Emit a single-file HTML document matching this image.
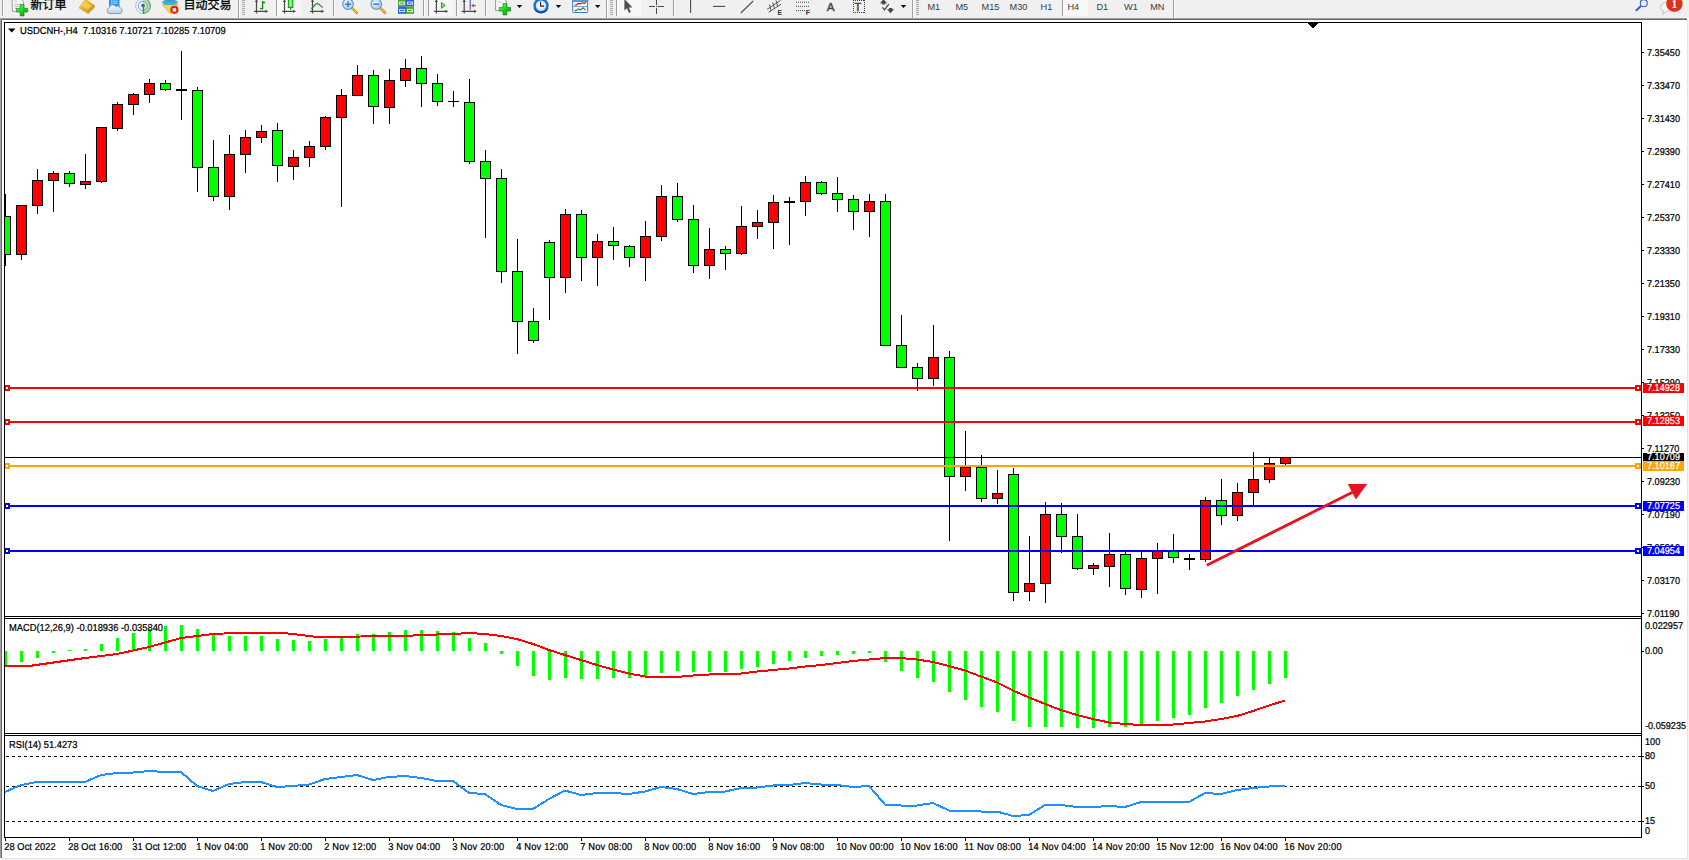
<!DOCTYPE html>
<html lang="zh"><head><meta charset="utf-8"><title>USDCNH H4</title>
<style>html,body{margin:0;padding:0;background:#fff;overflow:hidden}svg{display:block}text{white-space:pre}</style></head>
<body><svg width="1689" height="860" viewBox="0 0 1689 860" shape-rendering="crispEdges" font-family="Liberation Sans, Arial, sans-serif">
<rect x="0" y="0" width="1689" height="860" fill="#fff"/>
<rect x="0" y="0" width="1689" height="18" fill="#f0f0f0"/>
<rect x="0" y="18" width="1687" height="1" fill="#a0a0a0"/>
<rect x="0" y="19" width="1687" height="1" fill="#696969"/>
<rect x="0" y="18" width="1" height="840" fill="#a0a0a0"/>
<rect x="1" y="19" width="1" height="839" fill="#696969"/>
<rect x="1687" y="20" width="1" height="840" fill="#e3e3e3"/>
<rect x="1688" y="20" width="1" height="840" fill="#f4f4f4"/>
<rect x="2" y="858" width="1686" height="1" fill="#e3e3e3"/>
<rect x="2" y="859" width="1686" height="1" fill="#f4f4f4"/>
<!--CHART-->
<defs><clipPath id="cm"><rect x="5" y="23" width="1636" height="593"/></clipPath></defs>
<g clip-path="url(#cm)">
<rect x="5" y="194" width="1" height="72" fill="#000"/>
<rect x="0" y="216" width="11" height="39" fill="#000"/>
<rect x="1" y="217" width="9" height="37" fill="#00ff00"/>
<rect x="21" y="205" width="1" height="55" fill="#000"/>
<rect x="16" y="205" width="11" height="50" fill="#000"/>
<rect x="17" y="206" width="9" height="48" fill="#ff0000"/>
<rect x="37" y="169" width="1" height="45" fill="#000"/>
<rect x="32" y="180" width="11" height="26" fill="#000"/>
<rect x="33" y="181" width="9" height="24" fill="#ff0000"/>
<rect x="53" y="171" width="1" height="41" fill="#000"/>
<rect x="48" y="173" width="11" height="8" fill="#000"/>
<rect x="49" y="174" width="9" height="6" fill="#ff0000"/>
<rect x="69" y="171" width="1" height="16" fill="#000"/>
<rect x="64" y="173" width="11" height="11" fill="#000"/>
<rect x="65" y="174" width="9" height="9" fill="#00ff00"/>
<rect x="85" y="154" width="1" height="35" fill="#000"/>
<rect x="80" y="181" width="11" height="4" fill="#000"/>
<rect x="81" y="182" width="9" height="2" fill="#ff0000"/>
<rect x="101" y="127" width="1" height="56" fill="#000"/>
<rect x="96" y="127" width="11" height="55" fill="#000"/>
<rect x="97" y="128" width="9" height="53" fill="#ff0000"/>
<rect x="117" y="102" width="1" height="29" fill="#000"/>
<rect x="112" y="104" width="11" height="25" fill="#000"/>
<rect x="113" y="105" width="9" height="23" fill="#ff0000"/>
<rect x="133" y="93" width="1" height="22" fill="#000"/>
<rect x="128" y="94" width="11" height="11" fill="#000"/>
<rect x="129" y="95" width="9" height="9" fill="#ff0000"/>
<rect x="149" y="79" width="1" height="24" fill="#000"/>
<rect x="144" y="83" width="11" height="12" fill="#000"/>
<rect x="145" y="84" width="9" height="10" fill="#ff0000"/>
<rect x="165" y="80" width="1" height="11" fill="#000"/>
<rect x="160" y="83" width="11" height="7" fill="#000"/>
<rect x="161" y="84" width="9" height="5" fill="#00ff00"/>
<rect x="181" y="51" width="1" height="69" fill="#000"/>
<rect x="176" y="89" width="11" height="2" fill="#000"/>
<rect x="197" y="87" width="1" height="105" fill="#000"/>
<rect x="192" y="90" width="11" height="78" fill="#000"/>
<rect x="193" y="91" width="9" height="76" fill="#00ff00"/>
<rect x="213" y="140" width="1" height="61" fill="#000"/>
<rect x="208" y="167" width="11" height="30" fill="#000"/>
<rect x="209" y="168" width="9" height="28" fill="#00ff00"/>
<rect x="229" y="135" width="1" height="75" fill="#000"/>
<rect x="224" y="154" width="11" height="43" fill="#000"/>
<rect x="225" y="155" width="9" height="41" fill="#ff0000"/>
<rect x="245" y="130" width="1" height="43" fill="#000"/>
<rect x="240" y="137" width="11" height="18" fill="#000"/>
<rect x="241" y="138" width="9" height="16" fill="#ff0000"/>
<rect x="261" y="125" width="1" height="18" fill="#000"/>
<rect x="256" y="131" width="11" height="7" fill="#000"/>
<rect x="257" y="132" width="9" height="5" fill="#ff0000"/>
<rect x="277" y="123" width="1" height="59" fill="#000"/>
<rect x="272" y="130" width="11" height="36" fill="#000"/>
<rect x="273" y="131" width="9" height="34" fill="#00ff00"/>
<rect x="293" y="150" width="1" height="30" fill="#000"/>
<rect x="288" y="157" width="11" height="10" fill="#000"/>
<rect x="289" y="158" width="9" height="8" fill="#ff0000"/>
<rect x="309" y="141" width="1" height="26" fill="#000"/>
<rect x="304" y="146" width="11" height="12" fill="#000"/>
<rect x="305" y="147" width="9" height="10" fill="#ff0000"/>
<rect x="325" y="116" width="1" height="34" fill="#000"/>
<rect x="320" y="117" width="11" height="30" fill="#000"/>
<rect x="321" y="118" width="9" height="28" fill="#ff0000"/>
<rect x="341" y="89" width="1" height="118" fill="#000"/>
<rect x="336" y="95" width="11" height="23" fill="#000"/>
<rect x="337" y="96" width="9" height="21" fill="#ff0000"/>
<rect x="357" y="65" width="1" height="30" fill="#000"/>
<rect x="352" y="75" width="11" height="21" fill="#000"/>
<rect x="353" y="76" width="9" height="19" fill="#ff0000"/>
<rect x="373" y="70" width="1" height="54" fill="#000"/>
<rect x="368" y="75" width="11" height="32" fill="#000"/>
<rect x="369" y="76" width="9" height="30" fill="#00ff00"/>
<rect x="389" y="69" width="1" height="55" fill="#000"/>
<rect x="384" y="80" width="11" height="28" fill="#000"/>
<rect x="385" y="81" width="9" height="26" fill="#ff0000"/>
<rect x="405" y="59" width="1" height="28" fill="#000"/>
<rect x="400" y="68" width="11" height="13" fill="#000"/>
<rect x="401" y="69" width="9" height="11" fill="#ff0000"/>
<rect x="421" y="56" width="1" height="51" fill="#000"/>
<rect x="416" y="68" width="11" height="16" fill="#000"/>
<rect x="417" y="69" width="9" height="14" fill="#00ff00"/>
<rect x="437" y="74" width="1" height="32" fill="#000"/>
<rect x="432" y="83" width="11" height="19" fill="#000"/>
<rect x="433" y="84" width="9" height="17" fill="#00ff00"/>
<rect x="453" y="91" width="1" height="16" fill="#000"/>
<rect x="448" y="101" width="11" height="1" fill="#000"/>
<rect x="469" y="79" width="1" height="85" fill="#000"/>
<rect x="464" y="102" width="11" height="60" fill="#000"/>
<rect x="465" y="103" width="9" height="58" fill="#00ff00"/>
<rect x="485" y="150" width="1" height="88" fill="#000"/>
<rect x="480" y="161" width="11" height="18" fill="#000"/>
<rect x="481" y="162" width="9" height="16" fill="#00ff00"/>
<rect x="501" y="169" width="1" height="114" fill="#000"/>
<rect x="496" y="178" width="11" height="94" fill="#000"/>
<rect x="497" y="179" width="9" height="92" fill="#00ff00"/>
<rect x="517" y="239" width="1" height="115" fill="#000"/>
<rect x="512" y="271" width="11" height="51" fill="#000"/>
<rect x="513" y="272" width="9" height="49" fill="#00ff00"/>
<rect x="533" y="308" width="1" height="35" fill="#000"/>
<rect x="528" y="321" width="11" height="20" fill="#000"/>
<rect x="529" y="322" width="9" height="18" fill="#00ff00"/>
<rect x="549" y="240" width="1" height="80" fill="#000"/>
<rect x="544" y="242" width="11" height="36" fill="#000"/>
<rect x="545" y="243" width="9" height="34" fill="#00ff00"/>
<rect x="565" y="209" width="1" height="84" fill="#000"/>
<rect x="560" y="214" width="11" height="64" fill="#000"/>
<rect x="561" y="215" width="9" height="62" fill="#ff0000"/>
<rect x="581" y="210" width="1" height="71" fill="#000"/>
<rect x="576" y="214" width="11" height="44" fill="#000"/>
<rect x="577" y="215" width="9" height="42" fill="#00ff00"/>
<rect x="597" y="234" width="1" height="52" fill="#000"/>
<rect x="592" y="241" width="11" height="17" fill="#000"/>
<rect x="593" y="242" width="9" height="15" fill="#ff0000"/>
<rect x="613" y="227" width="1" height="33" fill="#000"/>
<rect x="608" y="241" width="11" height="5" fill="#000"/>
<rect x="609" y="242" width="9" height="3" fill="#00ff00"/>
<rect x="629" y="245" width="1" height="22" fill="#000"/>
<rect x="624" y="246" width="11" height="12" fill="#000"/>
<rect x="625" y="247" width="9" height="10" fill="#00ff00"/>
<rect x="645" y="221" width="1" height="60" fill="#000"/>
<rect x="640" y="236" width="11" height="22" fill="#000"/>
<rect x="641" y="237" width="9" height="20" fill="#ff0000"/>
<rect x="661" y="185" width="1" height="56" fill="#000"/>
<rect x="656" y="196" width="11" height="41" fill="#000"/>
<rect x="657" y="197" width="9" height="39" fill="#ff0000"/>
<rect x="677" y="183" width="1" height="39" fill="#000"/>
<rect x="672" y="196" width="11" height="24" fill="#000"/>
<rect x="673" y="197" width="9" height="22" fill="#00ff00"/>
<rect x="693" y="205" width="1" height="68" fill="#000"/>
<rect x="688" y="219" width="11" height="47" fill="#000"/>
<rect x="689" y="220" width="9" height="45" fill="#00ff00"/>
<rect x="709" y="228" width="1" height="51" fill="#000"/>
<rect x="704" y="249" width="11" height="17" fill="#000"/>
<rect x="705" y="250" width="9" height="15" fill="#ff0000"/>
<rect x="725" y="246" width="1" height="24" fill="#000"/>
<rect x="720" y="249" width="11" height="5" fill="#000"/>
<rect x="721" y="250" width="9" height="3" fill="#00ff00"/>
<rect x="741" y="206" width="1" height="49" fill="#000"/>
<rect x="736" y="226" width="11" height="28" fill="#000"/>
<rect x="737" y="227" width="9" height="26" fill="#ff0000"/>
<rect x="757" y="210" width="1" height="29" fill="#000"/>
<rect x="752" y="222" width="11" height="5" fill="#000"/>
<rect x="753" y="223" width="9" height="3" fill="#ff0000"/>
<rect x="773" y="195" width="1" height="54" fill="#000"/>
<rect x="768" y="202" width="11" height="21" fill="#000"/>
<rect x="769" y="203" width="9" height="19" fill="#ff0000"/>
<rect x="789" y="197" width="1" height="48" fill="#000"/>
<rect x="784" y="201" width="11" height="2" fill="#000"/>
<rect x="805" y="176" width="1" height="40" fill="#000"/>
<rect x="800" y="182" width="11" height="20" fill="#000"/>
<rect x="801" y="183" width="9" height="18" fill="#ff0000"/>
<rect x="821" y="181" width="1" height="14" fill="#000"/>
<rect x="816" y="182" width="11" height="12" fill="#000"/>
<rect x="817" y="183" width="9" height="10" fill="#00ff00"/>
<rect x="837" y="177" width="1" height="35" fill="#000"/>
<rect x="832" y="193" width="11" height="7" fill="#000"/>
<rect x="833" y="194" width="9" height="5" fill="#00ff00"/>
<rect x="853" y="195" width="1" height="35" fill="#000"/>
<rect x="848" y="199" width="11" height="13" fill="#000"/>
<rect x="849" y="200" width="9" height="11" fill="#00ff00"/>
<rect x="869" y="194" width="1" height="43" fill="#000"/>
<rect x="864" y="201" width="11" height="11" fill="#000"/>
<rect x="865" y="202" width="9" height="9" fill="#ff0000"/>
<rect x="885" y="194" width="1" height="151" fill="#000"/>
<rect x="880" y="201" width="11" height="145" fill="#000"/>
<rect x="881" y="202" width="9" height="143" fill="#00ff00"/>
<rect x="901" y="315" width="1" height="52" fill="#000"/>
<rect x="896" y="345" width="11" height="23" fill="#000"/>
<rect x="897" y="346" width="9" height="21" fill="#00ff00"/>
<rect x="917" y="363" width="1" height="28" fill="#000"/>
<rect x="912" y="367" width="11" height="12" fill="#000"/>
<rect x="913" y="368" width="9" height="10" fill="#00ff00"/>
<rect x="933" y="325" width="1" height="61" fill="#000"/>
<rect x="928" y="357" width="11" height="22" fill="#000"/>
<rect x="929" y="358" width="9" height="20" fill="#ff0000"/>
<rect x="949" y="351" width="1" height="190" fill="#000"/>
<rect x="944" y="357" width="11" height="120" fill="#000"/>
<rect x="945" y="358" width="9" height="118" fill="#00ff00"/>
<rect x="965" y="431" width="1" height="60" fill="#000"/>
<rect x="960" y="467" width="11" height="10" fill="#000"/>
<rect x="961" y="468" width="9" height="8" fill="#ff0000"/>
<rect x="981" y="455" width="1" height="47" fill="#000"/>
<rect x="976" y="467" width="11" height="32" fill="#000"/>
<rect x="977" y="468" width="9" height="30" fill="#00ff00"/>
<rect x="997" y="470" width="1" height="34" fill="#000"/>
<rect x="992" y="493" width="11" height="6" fill="#000"/>
<rect x="993" y="494" width="9" height="4" fill="#ff0000"/>
<rect x="1013" y="468" width="1" height="133" fill="#000"/>
<rect x="1008" y="474" width="11" height="119" fill="#000"/>
<rect x="1009" y="475" width="9" height="117" fill="#00ff00"/>
<rect x="1029" y="536" width="1" height="65" fill="#000"/>
<rect x="1024" y="583" width="11" height="9" fill="#000"/>
<rect x="1025" y="584" width="9" height="7" fill="#ff0000"/>
<rect x="1045" y="502" width="1" height="101" fill="#000"/>
<rect x="1040" y="514" width="11" height="70" fill="#000"/>
<rect x="1041" y="515" width="9" height="68" fill="#ff0000"/>
<rect x="1061" y="503" width="1" height="50" fill="#000"/>
<rect x="1056" y="514" width="11" height="23" fill="#000"/>
<rect x="1057" y="515" width="9" height="21" fill="#00ff00"/>
<rect x="1077" y="514" width="1" height="56" fill="#000"/>
<rect x="1072" y="536" width="11" height="33" fill="#000"/>
<rect x="1073" y="537" width="9" height="31" fill="#00ff00"/>
<rect x="1093" y="563" width="1" height="12" fill="#000"/>
<rect x="1088" y="565" width="11" height="4" fill="#000"/>
<rect x="1089" y="566" width="9" height="2" fill="#ff0000"/>
<rect x="1109" y="533" width="1" height="54" fill="#000"/>
<rect x="1104" y="554" width="11" height="13" fill="#000"/>
<rect x="1105" y="555" width="9" height="11" fill="#ff0000"/>
<rect x="1125" y="552" width="1" height="43" fill="#000"/>
<rect x="1120" y="554" width="11" height="35" fill="#000"/>
<rect x="1121" y="555" width="9" height="33" fill="#00ff00"/>
<rect x="1141" y="552" width="1" height="46" fill="#000"/>
<rect x="1136" y="558" width="11" height="32" fill="#000"/>
<rect x="1137" y="559" width="9" height="30" fill="#ff0000"/>
<rect x="1157" y="543" width="1" height="51" fill="#000"/>
<rect x="1152" y="551" width="11" height="8" fill="#000"/>
<rect x="1153" y="552" width="9" height="6" fill="#ff0000"/>
<rect x="1173" y="534" width="1" height="29" fill="#000"/>
<rect x="1168" y="551" width="11" height="7" fill="#000"/>
<rect x="1169" y="552" width="9" height="5" fill="#00ff00"/>
<rect x="1189" y="554" width="1" height="16" fill="#000"/>
<rect x="1184" y="558" width="11" height="2" fill="#000"/>
<rect x="1205" y="497" width="1" height="65" fill="#000"/>
<rect x="1200" y="500" width="11" height="60" fill="#000"/>
<rect x="1201" y="501" width="9" height="58" fill="#ff0000"/>
<rect x="1221" y="479" width="1" height="46" fill="#000"/>
<rect x="1216" y="500" width="11" height="16" fill="#000"/>
<rect x="1217" y="501" width="9" height="14" fill="#00ff00"/>
<rect x="1237" y="483" width="1" height="38" fill="#000"/>
<rect x="1232" y="492" width="11" height="24" fill="#000"/>
<rect x="1233" y="493" width="9" height="22" fill="#ff0000"/>
<rect x="1253" y="452" width="1" height="53" fill="#000"/>
<rect x="1248" y="479" width="11" height="14" fill="#000"/>
<rect x="1249" y="480" width="9" height="12" fill="#ff0000"/>
<rect x="1269" y="458" width="1" height="25" fill="#000"/>
<rect x="1264" y="463" width="11" height="17" fill="#000"/>
<rect x="1265" y="464" width="9" height="15" fill="#ff0000"/>
<rect x="1285" y="457" width="1" height="8" fill="#000"/>
<rect x="1280" y="457" width="11" height="7" fill="#000"/>
<rect x="1281" y="458" width="9" height="5" fill="#ff0000"/>
</g>
<rect x="5" y="457" width="1636" height="1" fill="#000"/>
<rect x="5" y="387" width="1636" height="2" fill="#ff0000"/>
<rect x="4" y="385" width="6" height="6" fill="#ff0000"/>
<rect x="6" y="387" width="2" height="2" fill="#fff"/>
<rect x="1635" y="385" width="6" height="6" fill="#ff0000"/>
<rect x="1637" y="387" width="2" height="2" fill="#fff"/>
<rect x="5" y="421" width="1636" height="2" fill="#ff0000"/>
<rect x="4" y="419" width="6" height="6" fill="#ff0000"/>
<rect x="6" y="421" width="2" height="2" fill="#fff"/>
<rect x="1635" y="419" width="6" height="6" fill="#ff0000"/>
<rect x="1637" y="421" width="2" height="2" fill="#fff"/>
<rect x="5" y="465" width="1636" height="2" fill="#ffa500"/>
<rect x="4" y="463" width="6" height="6" fill="#ffa500"/>
<rect x="6" y="465" width="2" height="2" fill="#fff"/>
<rect x="1635" y="463" width="6" height="6" fill="#ffa500"/>
<rect x="1637" y="465" width="2" height="2" fill="#fff"/>
<rect x="5" y="505" width="1636" height="2" fill="#0000ff"/>
<rect x="4" y="503" width="6" height="6" fill="#0000ff"/>
<rect x="6" y="505" width="2" height="2" fill="#fff"/>
<rect x="1635" y="503" width="6" height="6" fill="#0000ff"/>
<rect x="1637" y="505" width="2" height="2" fill="#fff"/>
<rect x="5" y="550" width="1636" height="2" fill="#0000ff"/>
<rect x="4" y="548" width="6" height="6" fill="#0000ff"/>
<rect x="6" y="550" width="2" height="2" fill="#fff"/>
<rect x="1635" y="548" width="6" height="6" fill="#0000ff"/>
<rect x="1637" y="550" width="2" height="2" fill="#fff"/>
<g shape-rendering="geometricPrecision"><line x1="1206.8" y1="565.3" x2="1354" y2="491.5" stroke="#e6141e" stroke-width="2.8"/><polygon points="1347.8,484 1367.2,484 1355.8,499.5" fill="#e6141e"/></g>
<rect x="4" y="22" width="1638" height="1" fill="#000"/>
<rect x="4" y="22" width="1" height="816" fill="#000"/>
<rect x="1641" y="22" width="1" height="816" fill="#000"/>
<rect x="4" y="616" width="1638" height="1" fill="#000"/>
<rect x="4" y="618" width="1638" height="1" fill="#000"/>
<rect x="4" y="733" width="1638" height="1" fill="#000"/>
<rect x="4" y="735" width="1638" height="1" fill="#000"/>
<rect x="4" y="837" width="1638" height="1" fill="#000"/>
<rect x="1308" y="23" width="10" height="1" fill="#000"/>
<rect x="1309" y="24" width="8" height="1" fill="#000"/>
<rect x="1310" y="25" width="6" height="1" fill="#000"/>
<rect x="1311" y="26" width="4" height="1" fill="#000"/>
<rect x="1312" y="27" width="2" height="1" fill="#000"/>
<rect x="5" y="651" width="2" height="14" fill="#00ff00"/>
<rect x="20" y="651" width="3" height="11" fill="#00ff00"/>
<rect x="36" y="651" width="3" height="7" fill="#00ff00"/>
<rect x="52" y="651" width="3" height="2" fill="#00ff00"/>
<rect x="68" y="650" width="3" height="1" fill="#00ff00"/>
<rect x="84" y="649" width="3" height="2" fill="#00ff00"/>
<rect x="100" y="644" width="3" height="7" fill="#00ff00"/>
<rect x="116" y="638" width="3" height="13" fill="#00ff00"/>
<rect x="132" y="633" width="3" height="18" fill="#00ff00"/>
<rect x="148" y="629" width="3" height="22" fill="#00ff00"/>
<rect x="164" y="626" width="3" height="25" fill="#00ff00"/>
<rect x="180" y="625" width="3" height="26" fill="#00ff00"/>
<rect x="196" y="629" width="3" height="22" fill="#00ff00"/>
<rect x="212" y="634" width="3" height="17" fill="#00ff00"/>
<rect x="228" y="636" width="3" height="15" fill="#00ff00"/>
<rect x="244" y="636" width="3" height="15" fill="#00ff00"/>
<rect x="260" y="636" width="3" height="15" fill="#00ff00"/>
<rect x="276" y="639" width="3" height="12" fill="#00ff00"/>
<rect x="292" y="640" width="3" height="11" fill="#00ff00"/>
<rect x="308" y="641" width="3" height="10" fill="#00ff00"/>
<rect x="324" y="639" width="3" height="12" fill="#00ff00"/>
<rect x="340" y="637" width="3" height="14" fill="#00ff00"/>
<rect x="356" y="634" width="3" height="17" fill="#00ff00"/>
<rect x="372" y="634" width="3" height="17" fill="#00ff00"/>
<rect x="388" y="632" width="3" height="19" fill="#00ff00"/>
<rect x="404" y="630" width="3" height="21" fill="#00ff00"/>
<rect x="420" y="630" width="3" height="21" fill="#00ff00"/>
<rect x="436" y="631" width="3" height="20" fill="#00ff00"/>
<rect x="452" y="632" width="3" height="19" fill="#00ff00"/>
<rect x="468" y="638" width="3" height="13" fill="#00ff00"/>
<rect x="484" y="643" width="3" height="8" fill="#00ff00"/>
<rect x="500" y="651" width="3" height="3" fill="#00ff00"/>
<rect x="516" y="651" width="3" height="15" fill="#00ff00"/>
<rect x="532" y="651" width="3" height="25" fill="#00ff00"/>
<rect x="548" y="651" width="3" height="29" fill="#00ff00"/>
<rect x="564" y="651" width="3" height="27" fill="#00ff00"/>
<rect x="580" y="651" width="3" height="28" fill="#00ff00"/>
<rect x="596" y="651" width="3" height="28" fill="#00ff00"/>
<rect x="612" y="651" width="3" height="27" fill="#00ff00"/>
<rect x="628" y="651" width="3" height="27" fill="#00ff00"/>
<rect x="644" y="651" width="3" height="25" fill="#00ff00"/>
<rect x="660" y="651" width="3" height="22" fill="#00ff00"/>
<rect x="676" y="651" width="3" height="20" fill="#00ff00"/>
<rect x="692" y="651" width="3" height="21" fill="#00ff00"/>
<rect x="708" y="651" width="3" height="21" fill="#00ff00"/>
<rect x="724" y="651" width="3" height="21" fill="#00ff00"/>
<rect x="740" y="651" width="3" height="18" fill="#00ff00"/>
<rect x="756" y="651" width="3" height="16" fill="#00ff00"/>
<rect x="772" y="651" width="3" height="13" fill="#00ff00"/>
<rect x="788" y="651" width="3" height="10" fill="#00ff00"/>
<rect x="804" y="651" width="3" height="7" fill="#00ff00"/>
<rect x="820" y="651" width="3" height="5" fill="#00ff00"/>
<rect x="836" y="651" width="3" height="4" fill="#00ff00"/>
<rect x="852" y="651" width="3" height="3" fill="#00ff00"/>
<rect x="868" y="651" width="3" height="2" fill="#00ff00"/>
<rect x="884" y="651" width="3" height="11" fill="#00ff00"/>
<rect x="900" y="651" width="3" height="20" fill="#00ff00"/>
<rect x="916" y="651" width="3" height="27" fill="#00ff00"/>
<rect x="932" y="651" width="3" height="31" fill="#00ff00"/>
<rect x="948" y="651" width="3" height="41" fill="#00ff00"/>
<rect x="964" y="651" width="3" height="49" fill="#00ff00"/>
<rect x="980" y="651" width="3" height="56" fill="#00ff00"/>
<rect x="996" y="651" width="3" height="61" fill="#00ff00"/>
<rect x="1012" y="651" width="3" height="70" fill="#00ff00"/>
<rect x="1028" y="651" width="3" height="76" fill="#00ff00"/>
<rect x="1044" y="651" width="3" height="76" fill="#00ff00"/>
<rect x="1060" y="651" width="3" height="76" fill="#00ff00"/>
<rect x="1076" y="651" width="3" height="77" fill="#00ff00"/>
<rect x="1092" y="651" width="3" height="77" fill="#00ff00"/>
<rect x="1108" y="651" width="3" height="76" fill="#00ff00"/>
<rect x="1124" y="651" width="3" height="76" fill="#00ff00"/>
<rect x="1140" y="651" width="3" height="74" fill="#00ff00"/>
<rect x="1156" y="651" width="3" height="70" fill="#00ff00"/>
<rect x="1172" y="651" width="3" height="67" fill="#00ff00"/>
<rect x="1188" y="651" width="3" height="64" fill="#00ff00"/>
<rect x="1204" y="651" width="3" height="57" fill="#00ff00"/>
<rect x="1220" y="651" width="3" height="52" fill="#00ff00"/>
<rect x="1236" y="651" width="3" height="45" fill="#00ff00"/>
<rect x="1252" y="651" width="3" height="39" fill="#00ff00"/>
<rect x="1268" y="651" width="3" height="33" fill="#00ff00"/>
<rect x="1284" y="651" width="3" height="27" fill="#00ff00"/>
<polyline points="5,666 29,666 85,658 117,654 149,647 181,638 213,634 245,632.5 277,632.5 293,634 317,637 405,636 421,635 453,634 469,633 485,634 501,636 517,639 533,644 549,650 565,655 581,660 597,665 613,669.5 629,673.5 645,676.5 661,677 677,677 693,675.5 709,674.5 725,674 741,673.5 757,671.5 773,670 789,668.5 805,666.5 821,665 837,663 853,661 869,659.5 885,658 901,658 917,659.5 933,662 949,666 965,670.5 981,676.5 997,682.5 1013,690.5 1029,697.5 1045,704 1061,710 1077,715 1093,719 1109,722.5 1125,724 1141,725 1157,725 1173,724.5 1189,723 1205,721.5 1221,719 1237,716 1253,711 1269,705.5 1285,700.5" fill="none" stroke="#ff0000" stroke-width="2"/>
<line x1="6" y1="756.5" x2="1641" y2="756.5" stroke="#000" stroke-width="1" stroke-dasharray="3 3"/>
<line x1="6" y1="786.5" x2="1641" y2="786.5" stroke="#000" stroke-width="1" stroke-dasharray="3 3"/>
<line x1="6" y1="821.5" x2="1641" y2="821.5" stroke="#000" stroke-width="1" stroke-dasharray="3 3"/>
<polyline points="5,792 21,785 37,782 85,782 101,775 117,773 133,772.5 149,771 165,772 181,772 197,786 213,791 229,784 245,782 261,782 277,787 293,786 309,784.5 325,779 341,777 357,775 373,780 389,777 405,776 421,778 437,781 453,781 469,793 485,794 501,805 517,809 533,809 549,799 565,790.5 581,795 597,793 613,793 629,794 645,791.5 661,787 677,789 693,794 709,792 725,791.5 741,788 757,787.5 773,785.5 789,785 805,783 821,784.5 837,785 853,787 869,786 885,804.5 901,805.5 917,805.5 933,803 949,810.5 965,810.5 981,811.5 997,811.5 1013,816 1029,815 1045,805 1061,805 1077,807 1093,807 1109,806 1125,807 1141,802 1157,802 1173,802 1189,802 1205,793 1221,794 1237,790 1253,788 1269,786.5 1285,785.5" fill="none" stroke="#1e90ff" stroke-width="2"/>
<g font-family="Liberation Sans, Arial, sans-serif" shape-rendering="geometricPrecision">
<polygon points="8,28.5 15.5,28.5 11.75,32.5" fill="#000"/>
<text transform="translate(20,34) scale(1,1.08)" text-rendering="geometricPrecision" font-size="9.35" fill="#000" stroke="#000" stroke-width="0.22" text-anchor="start" >USDCNH-,H4&#160; 7.10316 7.10721 7.10285 7.10709</text>
<text transform="translate(9,631) scale(1,1.08)" text-rendering="geometricPrecision" font-size="9.33" fill="#000" stroke="#000" stroke-width="0.22" text-anchor="start" >MACD(12,26,9) -0.018936 -0.035840</text>
<text transform="translate(9,748.3) scale(1,1.08)" text-rendering="geometricPrecision" font-size="9.33" fill="#000" stroke="#000" stroke-width="0.22" text-anchor="start" >RSI(14) 51.4273</text>
<rect x="1642" y="52" width="2" height="1" fill="#000"/>
<text transform="translate(1647,55.6) scale(1,1.08)" text-rendering="geometricPrecision" font-size="9.15" fill="#000" stroke="#000" stroke-width="0.22" text-anchor="start" >7.35450</text>
<rect x="1642" y="85" width="2" height="1" fill="#000"/>
<text transform="translate(1647,88.7) scale(1,1.08)" text-rendering="geometricPrecision" font-size="9.15" fill="#000" stroke="#000" stroke-width="0.22" text-anchor="start" >7.33470</text>
<rect x="1642" y="118" width="2" height="1" fill="#000"/>
<text transform="translate(1647,121.7) scale(1,1.08)" text-rendering="geometricPrecision" font-size="9.15" fill="#000" stroke="#000" stroke-width="0.22" text-anchor="start" >7.31430</text>
<rect x="1642" y="151" width="2" height="1" fill="#000"/>
<text transform="translate(1647,154.7) scale(1,1.08)" text-rendering="geometricPrecision" font-size="9.15" fill="#000" stroke="#000" stroke-width="0.22" text-anchor="start" >7.29390</text>
<rect x="1642" y="184" width="2" height="1" fill="#000"/>
<text transform="translate(1647,187.7) scale(1,1.08)" text-rendering="geometricPrecision" font-size="9.15" fill="#000" stroke="#000" stroke-width="0.22" text-anchor="start" >7.27410</text>
<rect x="1642" y="217" width="2" height="1" fill="#000"/>
<text transform="translate(1647,220.7) scale(1,1.08)" text-rendering="geometricPrecision" font-size="9.15" fill="#000" stroke="#000" stroke-width="0.22" text-anchor="start" >7.25370</text>
<rect x="1642" y="250" width="2" height="1" fill="#000"/>
<text transform="translate(1647,253.7) scale(1,1.08)" text-rendering="geometricPrecision" font-size="9.15" fill="#000" stroke="#000" stroke-width="0.22" text-anchor="start" >7.23330</text>
<rect x="1642" y="283" width="2" height="1" fill="#000"/>
<text transform="translate(1647,286.8) scale(1,1.08)" text-rendering="geometricPrecision" font-size="9.15" fill="#000" stroke="#000" stroke-width="0.22" text-anchor="start" >7.21350</text>
<rect x="1642" y="316" width="2" height="1" fill="#000"/>
<text transform="translate(1647,319.8) scale(1,1.08)" text-rendering="geometricPrecision" font-size="9.15" fill="#000" stroke="#000" stroke-width="0.22" text-anchor="start" >7.19310</text>
<rect x="1642" y="349" width="2" height="1" fill="#000"/>
<text transform="translate(1647,352.8) scale(1,1.08)" text-rendering="geometricPrecision" font-size="9.15" fill="#000" stroke="#000" stroke-width="0.22" text-anchor="start" >7.17330</text>
<rect x="1642" y="382" width="2" height="1" fill="#000"/>
<text transform="translate(1647,385.8) scale(1,1.08)" text-rendering="geometricPrecision" font-size="9.15" fill="#000" stroke="#000" stroke-width="0.22" text-anchor="start" >7.15290</text>
<rect x="1642" y="415" width="2" height="1" fill="#000"/>
<text transform="translate(1647,418.8) scale(1,1.08)" text-rendering="geometricPrecision" font-size="9.15" fill="#000" stroke="#000" stroke-width="0.22" text-anchor="start" >7.13250</text>
<rect x="1642" y="448" width="2" height="1" fill="#000"/>
<text transform="translate(1647,451.8) scale(1,1.08)" text-rendering="geometricPrecision" font-size="9.15" fill="#000" stroke="#000" stroke-width="0.22" text-anchor="start" >7.11270</text>
<rect x="1642" y="481" width="2" height="1" fill="#000"/>
<text transform="translate(1647,484.8) scale(1,1.08)" text-rendering="geometricPrecision" font-size="9.15" fill="#000" stroke="#000" stroke-width="0.22" text-anchor="start" >7.09230</text>
<rect x="1642" y="514" width="2" height="1" fill="#000"/>
<text transform="translate(1647,517.9) scale(1,1.08)" text-rendering="geometricPrecision" font-size="9.15" fill="#000" stroke="#000" stroke-width="0.22" text-anchor="start" >7.07190</text>
<rect x="1642" y="547" width="2" height="1" fill="#000"/>
<text transform="translate(1647,550.9) scale(1,1.08)" text-rendering="geometricPrecision" font-size="9.15" fill="#000" stroke="#000" stroke-width="0.22" text-anchor="start" >7.05210</text>
<rect x="1642" y="580" width="2" height="1" fill="#000"/>
<text transform="translate(1647,583.9) scale(1,1.08)" text-rendering="geometricPrecision" font-size="9.15" fill="#000" stroke="#000" stroke-width="0.22" text-anchor="start" >7.03170</text>
<rect x="1642" y="613" width="2" height="1" fill="#000"/>
<text transform="translate(1647,616.9) scale(1,1.08)" text-rendering="geometricPrecision" font-size="9.15" fill="#000" stroke="#000" stroke-width="0.22" text-anchor="start" >7.01190</text>
<text transform="translate(1645,628.5) scale(1,1.08)" text-rendering="geometricPrecision" font-size="9.15" fill="#000" stroke="#000" stroke-width="0.22" text-anchor="start" >0.022957</text>
<text transform="translate(1645,654.2) scale(1,1.08)" text-rendering="geometricPrecision" font-size="9.15" fill="#000" stroke="#000" stroke-width="0.22" text-anchor="start" >0.00</text>
<text transform="translate(1645,729.2) scale(1,1.08)" text-rendering="geometricPrecision" font-size="9.15" fill="#000" stroke="#000" stroke-width="0.22" text-anchor="start" >-0.059235</text>
<text transform="translate(1645,745.2) scale(1,1.08)" text-rendering="geometricPrecision" font-size="9.15" fill="#000" stroke="#000" stroke-width="0.22" text-anchor="start" >100</text>
<text transform="translate(1645,759.2) scale(1,1.08)" text-rendering="geometricPrecision" font-size="9.15" fill="#000" stroke="#000" stroke-width="0.22" text-anchor="start" >80</text>
<text transform="translate(1645,789.2) scale(1,1.08)" text-rendering="geometricPrecision" font-size="9.15" fill="#000" stroke="#000" stroke-width="0.22" text-anchor="start" >50</text>
<text transform="translate(1645,824.2) scale(1,1.08)" text-rendering="geometricPrecision" font-size="9.15" fill="#000" stroke="#000" stroke-width="0.22" text-anchor="start" >15</text>
<text transform="translate(1645,833.5) scale(1,1.08)" text-rendering="geometricPrecision" font-size="9.15" fill="#000" stroke="#000" stroke-width="0.22" text-anchor="start" >0</text>
<rect x="1642" y="651" width="2" height="1" fill="#000"/>
<rect x="1642" y="756" width="2" height="1" fill="#000"/>
<rect x="1642" y="786" width="2" height="1" fill="#000"/>
<rect x="1642" y="821" width="2" height="1" fill="#000"/>
<rect x="1643" y="383" width="41" height="10" fill="#ff0000"/>
<text transform="translate(1647,390.9) scale(1,1.08)" text-rendering="geometricPrecision" font-size="9.15" fill="#fff" stroke="#fff" stroke-width="0.22" text-anchor="start" >7.14928</text>
<rect x="1643" y="416" width="41" height="10" fill="#ff0000"/>
<text transform="translate(1647,423.9) scale(1,1.08)" text-rendering="geometricPrecision" font-size="9.15" fill="#fff" stroke="#fff" stroke-width="0.22" text-anchor="start" >7.12853</text>
<rect x="1643" y="453" width="41" height="9" fill="#000"/>
<text transform="translate(1647,460.4) scale(1,1.08)" text-rendering="geometricPrecision" font-size="9.15" fill="#fff" stroke="#fff" stroke-width="0.22" text-anchor="start" >7.10709</text>
<rect x="1643" y="461" width="41" height="10" fill="#ffa500"/>
<text transform="translate(1647,468.9) scale(1,1.08)" text-rendering="geometricPrecision" font-size="9.15" fill="#fff" stroke="#fff" stroke-width="0.22" text-anchor="start" >7.10167</text>
<rect x="1643" y="501" width="41" height="10" fill="#0000ff"/>
<text transform="translate(1647,508.9) scale(1,1.08)" text-rendering="geometricPrecision" font-size="9.15" fill="#fff" stroke="#fff" stroke-width="0.22" text-anchor="start" >7.07725</text>
<rect x="1643" y="546" width="41" height="10" fill="#0000ff"/>
<text transform="translate(1647,553.9) scale(1,1.08)" text-rendering="geometricPrecision" font-size="9.15" fill="#fff" stroke="#fff" stroke-width="0.22" text-anchor="start" >7.04954</text>
<rect x="5" y="838" width="1" height="3" fill="#000"/>
<text transform="translate(4.2,850) scale(1,1.08)" text-rendering="geometricPrecision" font-size="9.3" fill="#000" stroke="#000" stroke-width="0.22" text-anchor="start" letter-spacing="0.07">28 Oct 2022</text>
<rect x="69" y="838" width="1" height="3" fill="#000"/>
<text transform="translate(68.2,850) scale(1,1.08)" text-rendering="geometricPrecision" font-size="9.3" fill="#000" stroke="#000" stroke-width="0.22" text-anchor="start" letter-spacing="0.07">28 Oct 16:00</text>
<rect x="133" y="838" width="1" height="3" fill="#000"/>
<text transform="translate(132.2,850) scale(1,1.08)" text-rendering="geometricPrecision" font-size="9.3" fill="#000" stroke="#000" stroke-width="0.22" text-anchor="start" letter-spacing="0.07">31 Oct 12:00</text>
<rect x="197" y="838" width="1" height="3" fill="#000"/>
<text transform="translate(196.2,850) scale(1,1.08)" text-rendering="geometricPrecision" font-size="9.3" fill="#000" stroke="#000" stroke-width="0.22" text-anchor="start" letter-spacing="0.19">1 Nov 04:00</text>
<rect x="261" y="838" width="1" height="3" fill="#000"/>
<text transform="translate(260.2,850) scale(1,1.08)" text-rendering="geometricPrecision" font-size="9.3" fill="#000" stroke="#000" stroke-width="0.22" text-anchor="start" letter-spacing="0.19">1 Nov 20:00</text>
<rect x="325" y="838" width="1" height="3" fill="#000"/>
<text transform="translate(324.2,850) scale(1,1.08)" text-rendering="geometricPrecision" font-size="9.3" fill="#000" stroke="#000" stroke-width="0.22" text-anchor="start" letter-spacing="0.19">2 Nov 12:00</text>
<rect x="389" y="838" width="1" height="3" fill="#000"/>
<text transform="translate(388.2,850) scale(1,1.08)" text-rendering="geometricPrecision" font-size="9.3" fill="#000" stroke="#000" stroke-width="0.22" text-anchor="start" letter-spacing="0.19">3 Nov 04:00</text>
<rect x="453" y="838" width="1" height="3" fill="#000"/>
<text transform="translate(452.2,850) scale(1,1.08)" text-rendering="geometricPrecision" font-size="9.3" fill="#000" stroke="#000" stroke-width="0.22" text-anchor="start" letter-spacing="0.19">3 Nov 20:00</text>
<rect x="517" y="838" width="1" height="3" fill="#000"/>
<text transform="translate(516.2,850) scale(1,1.08)" text-rendering="geometricPrecision" font-size="9.3" fill="#000" stroke="#000" stroke-width="0.22" text-anchor="start" letter-spacing="0.19">4 Nov 12:00</text>
<rect x="581" y="838" width="1" height="3" fill="#000"/>
<text transform="translate(580.2,850) scale(1,1.08)" text-rendering="geometricPrecision" font-size="9.3" fill="#000" stroke="#000" stroke-width="0.22" text-anchor="start" letter-spacing="0.19">7 Nov 08:00</text>
<rect x="645" y="838" width="1" height="3" fill="#000"/>
<text transform="translate(644.2,850) scale(1,1.08)" text-rendering="geometricPrecision" font-size="9.3" fill="#000" stroke="#000" stroke-width="0.22" text-anchor="start" letter-spacing="0.19">8 Nov 00:00</text>
<rect x="709" y="838" width="1" height="3" fill="#000"/>
<text transform="translate(708.2,850) scale(1,1.08)" text-rendering="geometricPrecision" font-size="9.3" fill="#000" stroke="#000" stroke-width="0.22" text-anchor="start" letter-spacing="0.19">8 Nov 16:00</text>
<rect x="773" y="838" width="1" height="3" fill="#000"/>
<text transform="translate(772.2,850) scale(1,1.08)" text-rendering="geometricPrecision" font-size="9.3" fill="#000" stroke="#000" stroke-width="0.22" text-anchor="start" letter-spacing="0.19">9 Nov 08:00</text>
<rect x="837" y="838" width="1" height="3" fill="#000"/>
<text transform="translate(836.2,850) scale(1,1.08)" text-rendering="geometricPrecision" font-size="9.3" fill="#000" stroke="#000" stroke-width="0.22" text-anchor="start" letter-spacing="0.19">10 Nov 00:00</text>
<rect x="901" y="838" width="1" height="3" fill="#000"/>
<text transform="translate(900.2,850) scale(1,1.08)" text-rendering="geometricPrecision" font-size="9.3" fill="#000" stroke="#000" stroke-width="0.22" text-anchor="start" letter-spacing="0.19">10 Nov 16:00</text>
<rect x="965" y="838" width="1" height="3" fill="#000"/>
<text transform="translate(964.2,850) scale(1,1.08)" text-rendering="geometricPrecision" font-size="9.3" fill="#000" stroke="#000" stroke-width="0.22" text-anchor="start" letter-spacing="0.19">11 Nov 08:00</text>
<rect x="1029" y="838" width="1" height="3" fill="#000"/>
<text transform="translate(1028.2,850) scale(1,1.08)" text-rendering="geometricPrecision" font-size="9.3" fill="#000" stroke="#000" stroke-width="0.22" text-anchor="start" letter-spacing="0.19">14 Nov 04:00</text>
<rect x="1093" y="838" width="1" height="3" fill="#000"/>
<text transform="translate(1092.2,850) scale(1,1.08)" text-rendering="geometricPrecision" font-size="9.3" fill="#000" stroke="#000" stroke-width="0.22" text-anchor="start" letter-spacing="0.19">14 Nov 20:00</text>
<rect x="1157" y="838" width="1" height="3" fill="#000"/>
<text transform="translate(1156.2,850) scale(1,1.08)" text-rendering="geometricPrecision" font-size="9.3" fill="#000" stroke="#000" stroke-width="0.22" text-anchor="start" letter-spacing="0.19">15 Nov 12:00</text>
<rect x="1221" y="838" width="1" height="3" fill="#000"/>
<text transform="translate(1220.2,850) scale(1,1.08)" text-rendering="geometricPrecision" font-size="9.3" fill="#000" stroke="#000" stroke-width="0.22" text-anchor="start" letter-spacing="0.19">16 Nov 04:00</text>
<rect x="1285" y="838" width="1" height="3" fill="#000"/>
<text transform="translate(1284.2,850) scale(1,1.08)" text-rendering="geometricPrecision" font-size="9.3" fill="#000" stroke="#000" stroke-width="0.22" text-anchor="start" letter-spacing="0.19">16 Nov 20:00</text>
</g>
<!--TOOLBAR-->
<g shape-rendering="geometricPrecision">
<defs>
<linearGradient id="gGreen" x1="0" y1="0" x2="1" y2="1"><stop offset="0" stop-color="#8dff8d"/><stop offset="0.5" stop-color="#1fd01f"/><stop offset="1" stop-color="#0a9a0a"/></linearGradient>
<linearGradient id="gGold" x1="0" y1="0" x2="1" y2="1"><stop offset="0" stop-color="#f7d64a"/><stop offset="0.6" stop-color="#e0a818"/><stop offset="1" stop-color="#a8740c"/></linearGradient>
<linearGradient id="gCloud" x1="0" y1="0" x2="0" y2="1"><stop offset="0" stop-color="#ffffff"/><stop offset="1" stop-color="#b9c9e6"/></linearGradient>
<radialGradient id="gLens" cx="0.4" cy="0.35" r="0.7"><stop offset="0" stop-color="#eef6ff"/><stop offset="1" stop-color="#9cc4ec"/></radialGradient>
<radialGradient id="gClock" cx="0.45" cy="0.4" r="0.6"><stop offset="0" stop-color="#ffffff"/><stop offset="0.75" stop-color="#e8eef8"/><stop offset="1" stop-color="#c8d4e8"/></radialGradient>
<clipPath id="tbclip"><rect x="0" y="0" width="1689" height="18"/></clipPath>
</defs>
<g clip-path="url(#tbclip)">
<rect x="2" y="0" width="1" height="16" fill="#a0a0a0" shape-rendering="crispEdges"/>
<rect x="3" y="0" width="1" height="16" fill="#fbfbfb" shape-rendering="crispEdges"/>
<path d="M12.3 -1H21.2L23.6 1.6V11.3H12.3Z" fill="#fdfdfd" stroke="#8e8e8e" stroke-width="0.9"/>
<path d="M14.3 1.2h3M14.3 4.2h6.5M14.3 6.2h6.5M14.3 8.2h3" stroke="#a9a9a9" stroke-width="0.8"/>
<path d="M20.2 4.6h3.8v3.8h3.7v3.6h-3.7v3.9h-3.8v-3.9h-3.8v-3.6h3.8z" fill="url(#gGreen)" stroke="#0b8a0b" stroke-width="0.7"/>
<text x="30.6" y="9.3" font-size="12" fill="#000" stroke="#000" stroke-width="0.3" font-family="Liberation Sans, Noto Sans CJK SC, sans-serif">新订单</text>
<path d="M79.3 6.8L88.2 12.4L94.9 5.4V7.2L88.2 14L79.3 8.3Z" fill="#b07c12"/>
<path d="M79.6 7.8L88.2 13.2L94.8 6.4" stroke="#f3dc96" stroke-width="0.6" fill="none"/>
<path d="M85.4 -1.4L94.9 5.4L88.2 12.4L79.3 6.8Z" fill="url(#gGold)"/>
<path d="M84.4 1.2L91.8 5.8L88 9.8L81.4 6Z" fill="#fbe27a" opacity="0.55"/>
<rect x="109" y="-1" width="10.5" height="8" fill="#2196f3"/>
<path d="M112.6 1.2h5.2M112.6 3.2h5.2" stroke="#cfe8ff" stroke-width="0.9"/><rect x="111.2" y="-1" width="1" height="7" fill="#90caf9"/>
<path d="M110 13.6a3 3 0 0 1 -0.6-5.9a3.4 3.4 0 0 1 6.3-1.3a3 3 0 0 1 4.4 1.6a2.9 2.9 0 0 1 -0.2 5.6z" fill="url(#gCloud)" stroke="#6f88b8" stroke-width="0.8"/>
<circle cx="143" cy="6" r="7.4" fill="none" stroke="#a9bfe8" stroke-width="1"/>
<circle cx="143" cy="6" r="4.7" fill="none" stroke="#7f9fe0" stroke-width="1"/>
<path d="M143 -1.4A7.4 7.4 0 0 1 143 13.4z" fill="#b9dcb4" opacity="0.85"/>
<path d="M143 1.3A4.7 4.7 0 0 1 143 10.7" fill="none" stroke="#78b878" stroke-width="1"/>
<path d="M143 -1.4A7.4 7.4 0 0 1 143 13.4" fill="none" stroke="#5aa85a" stroke-width="1.1"/>
<circle cx="143" cy="5.6" r="1.8" fill="#2f62c8"/>
<path d="M143.4 6V13.4" stroke="#2aa02a" stroke-width="1.4"/>
<path d="M162.4 4.6L170.4 13.8L178 4.6Z" fill="#f6d548" stroke="#c9a21a" stroke-width="0.6"/>
<ellipse cx="170" cy="2.2" rx="8" ry="2.9" fill="#4aa9d6"/><path d="M165.6 1.6c0-4 9-4 9 0z" fill="#3c98c8"/>
<circle cx="174.4" cy="9.8" r="4.1" fill="#e0260e"/><rect x="172.7" y="8.1" width="3.4" height="3.4" fill="#fff"/>
<text x="183.6" y="9.3" font-size="12" fill="#000" stroke="#000" stroke-width="0.3" font-family="Liberation Sans, Noto Sans CJK SC, sans-serif">自动交易</text>
<rect x="238" y="0" width="1" height="18" fill="#a0a0a0" shape-rendering="crispEdges"/>
<rect x="239" y="0" width="1" height="18" fill="#fbfbfb" shape-rendering="crispEdges"/>
<rect x="242" y="0" width="3" height="1" fill="#a8a8a8" shape-rendering="crispEdges"/>
<rect x="242" y="2" width="3" height="1" fill="#a8a8a8" shape-rendering="crispEdges"/>
<rect x="242" y="4" width="3" height="1" fill="#a8a8a8" shape-rendering="crispEdges"/>
<rect x="242" y="6" width="3" height="1" fill="#a8a8a8" shape-rendering="crispEdges"/>
<rect x="242" y="8" width="3" height="1" fill="#a8a8a8" shape-rendering="crispEdges"/>
<rect x="242" y="10" width="3" height="1" fill="#a8a8a8" shape-rendering="crispEdges"/>
<rect x="242" y="12" width="3" height="1" fill="#a8a8a8" shape-rendering="crispEdges"/>
<rect x="242" y="14" width="3" height="1" fill="#a8a8a8" shape-rendering="crispEdges"/>
<path d="M256.5 0V13.6M254 11.4H267.4" stroke="#4a4a4a" stroke-width="1.2" fill="none"/>
<polygon points="265.4,9.8 268.0,11.4 265.4,13" fill="#4a4a4a"/>
<polygon points="254.9,2 256.5,-0.6 258.1,2" fill="#4a4a4a"/>
<path d="M262.6 1V9.6M262.6 2.5h2.6M260 8.6h2.6" stroke="#0f8f0f" stroke-width="1.3" fill="none"/>
<rect x="276" y="0" width="25" height="16" fill="#f8f8f8" shape-rendering="crispEdges"/>
<rect x="276" y="0" width="1" height="16" fill="#a0a0a0" shape-rendering="crispEdges"/>
<path d="M284.5 0V13.6M282.2 11.4H295.2" stroke="#4a4a4a" stroke-width="1.2" fill="none"/>
<polygon points="293.2,9.8 295.8,11.4 293.2,13" fill="#4a4a4a"/>
<polygon points="282.9,2 284.5,-0.6 286.1,2" fill="#4a4a4a"/>
<path d="M290.6 0V9.8" stroke="#0f8f0f" stroke-width="1.2"/><rect x="288.3" y="-1" width="4.6" height="8.6" fill="#3fe03f" stroke="#0f8f0f" stroke-width="0.9"/><rect x="289.6" y="0" width="2" height="6.6" fill="#8fff8f"/>
<path d="M312.5 0V13.6M310 11.4H323.4" stroke="#4a4a4a" stroke-width="1.2" fill="none"/>
<polygon points="321.4,9.8 324.0,11.4 321.4,13" fill="#4a4a4a"/>
<polygon points="310.9,2 312.5,-0.6 314.1,2" fill="#4a4a4a"/>
<path d="M311.2 8.8C313.6 7.4 315.2 3.4 317.1 3.3C319 3.3 320.4 6.6 322.8 7.4" stroke="#1f8f1f" stroke-width="1.3" fill="none"/>
<rect x="333" y="0" width="1" height="16" fill="#a0a0a0" shape-rendering="crispEdges"/>
<rect x="334" y="0" width="1" height="16" fill="#fbfbfb" shape-rendering="crispEdges"/>
<path d="M351.6 7.8L356.8 12.8" stroke="#c79a18" stroke-width="2.6" stroke-linecap="round"/>
<path d="M351.9 8.0L356.6 12.5" stroke="#f4d878" stroke-width="0.9" stroke-linecap="round"/>
<circle cx="348" cy="4.2" r="5.3" fill="url(#gLens)" stroke="#5d95cf" stroke-width="1.1"/>
<path d="M345.1 4.2h5.8" stroke="#3a78c0" stroke-width="1.5"/>
<path d="M348 1.3v5.8" stroke="#3a78c0" stroke-width="1.5"/>
<path d="M379.90000000000003 7.8L385.1 12.8" stroke="#c79a18" stroke-width="2.6" stroke-linecap="round"/>
<path d="M380.2 8.0L384.90000000000003 12.5" stroke="#f4d878" stroke-width="0.9" stroke-linecap="round"/>
<circle cx="376.3" cy="4.2" r="5.3" fill="url(#gLens)" stroke="#5d95cf" stroke-width="1.1"/>
<path d="M373.40000000000003 4.2h5.8" stroke="#3a78c0" stroke-width="1.5"/>
<rect x="398" y="-1" width="8" height="7.4" fill="#4aa832"/>
<path d="M399.4 2h5.2M399.4 4.2h5.2M399.6 2v2.6M404.4 2v2.6" stroke="#f4f8ff" stroke-width="0.9" fill="none"/>
<rect x="406" y="-1" width="8" height="7.4" fill="#2a62d8"/>
<path d="M407.4 2h5.2M407.4 4.2h5.2M407.6 2v2.6M412.4 2v2.6" stroke="#f4f8ff" stroke-width="0.9" fill="none"/>
<rect x="398" y="6.4" width="8" height="7.4" fill="#2a62d8"/>
<path d="M399.4 9.4h5.2M399.4 11.600000000000001h5.2M399.6 9.4v2.6M404.4 9.4v2.6" stroke="#f4f8ff" stroke-width="0.9" fill="none"/>
<rect x="406" y="6.4" width="8" height="7.4" fill="#4aa832"/>
<path d="M407.4 9.4h5.2M407.4 11.600000000000001h5.2M407.6 9.4v2.6M412.4 9.4v2.6" stroke="#f4f8ff" stroke-width="0.9" fill="none"/>
<rect x="423" y="0" width="1" height="16" fill="#a0a0a0" shape-rendering="crispEdges"/>
<rect x="424" y="0" width="1" height="16" fill="#fbfbfb" shape-rendering="crispEdges"/>
<rect x="428" y="0" width="25" height="16" fill="#f8f8f8" shape-rendering="crispEdges"/>
<rect x="428" y="0" width="1" height="16" fill="#a0a0a0" shape-rendering="crispEdges"/>
<path d="M436.4 0V13.6M434 11.4H447.4" stroke="#4a4a4a" stroke-width="1.2" fill="none"/>
<polygon points="445.4,9.8 448.0,11.4 445.4,13" fill="#4a4a4a"/>
<polygon points="434.79999999999995,2 436.4,-0.6 438.0,2" fill="#4a4a4a"/>
<path d="M441.4 2.4L445.2 5.4L441.4 8.4Z" fill="#7fe07f" stroke="#1e9a1e" stroke-width="0.9"/>
<rect x="456" y="0" width="1" height="16" fill="#a0a0a0" shape-rendering="crispEdges"/>
<rect x="457" y="0" width="1" height="16" fill="#fbfbfb" shape-rendering="crispEdges"/>
<path d="M464.2 0V13.6M461.6 11.4H476" stroke="#4a4a4a" stroke-width="1.2" fill="none"/>
<polygon points="474,9.8 476.6,11.4 474,13" fill="#4a4a4a"/>
<polygon points="462.59999999999997,2 464.2,-0.6 465.8,2" fill="#4a4a4a"/>
<path d="M470.2 0V10" stroke="#2a62c8" stroke-width="1.1"/><path d="M476 5.6h-3.4" stroke="#d83a1a" stroke-width="1"/><polygon points="471.2,5.6 473.8,3.8 473.8,7.4" fill="#d83a1a"/>
<rect x="485" y="0" width="1" height="16" fill="#a0a0a0" shape-rendering="crispEdges"/>
<rect x="486" y="0" width="1" height="16" fill="#fbfbfb" shape-rendering="crispEdges"/>
<path d="M495.6 -1H504L506.6 1.4V10.6H495.6Z" fill="#fafafa" stroke="#8e8e8e" stroke-width="0.9"/>
<path d="M498.4 2.2c1.6-2 2 2 3.4 0" stroke="#9a9a9a" stroke-width="0.7" fill="none"/>
<path d="M503 3.6h3.8v3.8h3.7v3.6h-3.7v3.9h-3.8v-3.9h-3.8v-3.6h3.8z" fill="url(#gGreen)" stroke="#0b8a0b" stroke-width="0.7"/>
<polygon points="516.8,5 522.1999999999999,5 519.5,8" fill="#000"/>
<circle cx="541" cy="5.7" r="7.7" fill="#1f6fd6"/><path d="M533.6 7.6a7.7 7.7 0 0 0 14.8 0a9 9 0 0 1 -14.8 0z" fill="#0f4fa8"/><circle cx="541" cy="5.7" r="5.2" fill="url(#gClock)"/>
<path d="M540.6 1.8V6.1H544" stroke="#222" stroke-width="1.1" fill="none"/>
<path d="M541 1.1v.9M541 9.6v.9M536.4 5.7h.9M544.7 5.7h.9M537.8 2.5l.6.6M544.2 2.5l-.6.6M537.8 8.9l.6-.6M544.2 8.9l-.6-.6" stroke="#8a9ab8" stroke-width="0.6"/>
<polygon points="555.8,5 561.1999999999999,5 558.5,8" fill="#000"/>
<rect x="572.7" y="-1" width="15" height="13.5" rx="0.8" fill="#ffffff" stroke="#3f78c8" stroke-width="1"/>
<rect x="572.2" y="-1" width="16" height="3" fill="#5a96e0"/>
<path d="M573.2 6.6h14" stroke="#5a90d8" stroke-width="0.9"/>
<path d="M574.4 5l2.2-.2 1.8-1.4 2 .4 1.8-1 2 .6 2-1.2" stroke="#a3240e" stroke-width="1.2" fill="none"/>
<path d="M574.4 10.6l2.2-.2 2-1.6 2 1.2 2.4-2.2 2.6 2.4" stroke="#178a17" stroke-width="1.1" fill="none"/>
<polygon points="595,5 600.4,5 597.7,8" fill="#000"/>
<rect x="606" y="0" width="1" height="18" fill="#a0a0a0" shape-rendering="crispEdges"/>
<rect x="607" y="0" width="1" height="18" fill="#fbfbfb" shape-rendering="crispEdges"/>
<rect x="610" y="0" width="3" height="1" fill="#a8a8a8" shape-rendering="crispEdges"/>
<rect x="610" y="2" width="3" height="1" fill="#a8a8a8" shape-rendering="crispEdges"/>
<rect x="610" y="4" width="3" height="1" fill="#a8a8a8" shape-rendering="crispEdges"/>
<rect x="610" y="6" width="3" height="1" fill="#a8a8a8" shape-rendering="crispEdges"/>
<rect x="610" y="8" width="3" height="1" fill="#a8a8a8" shape-rendering="crispEdges"/>
<rect x="610" y="10" width="3" height="1" fill="#a8a8a8" shape-rendering="crispEdges"/>
<rect x="610" y="12" width="3" height="1" fill="#a8a8a8" shape-rendering="crispEdges"/>
<rect x="610" y="14" width="3" height="1" fill="#a8a8a8" shape-rendering="crispEdges"/>
<rect x="616" y="0" width="25" height="16" fill="#f8f8f8" shape-rendering="crispEdges"/>
<rect x="616" y="0" width="1" height="16" fill="#a0a0a0" shape-rendering="crispEdges"/>
<path d="M624.4 -1V10.4L627 8.2L629 12.9L630.8 12.1L628.8 7.6L632.4 7.4Z" fill="#4c4c4c"/>
<g shape-rendering="crispEdges" fill="#4a4a4a"><rect x="649" y="6" width="6" height="1"/><rect x="658" y="6" width="6" height="1"/><rect x="656" y="0" width="1" height="5"/><rect x="656" y="8" width="1" height="6"/><rect x="656" y="6" width="1" height="1"/></g>
<rect x="673" y="0" width="1" height="16" fill="#a0a0a0" shape-rendering="crispEdges"/>
<rect x="674" y="0" width="1" height="16" fill="#fbfbfb" shape-rendering="crispEdges"/>
<path d="M690.6 0V13" stroke="#4a4a4a" stroke-width="1.1"/>
<path d="M713 6.4H725.2" stroke="#4a4a4a" stroke-width="1.1"/>
<path d="M740.8 13L753.2 1" stroke="#4a4a4a" stroke-width="1.1"/>
<path d="M767 9.4L780.6 0.4M768.6 12.4L781 4.2M769.6 4.6l1.6 6.4M772.8 2.4l1.8 6.6M776 0.4l1.8 6.4" stroke="#4a4a4a" stroke-width="0.9" fill="none"/>
<text x="777.6" y="15" font-size="6.9" font-weight="bold" fill="#333">E</text>
<path d="M796 2.2H809" stroke="#4a4a4a" stroke-width="1" stroke-dasharray="1 1"/>
<path d="M796 6.4H809" stroke="#4a4a4a" stroke-width="1" stroke-dasharray="1 1"/>
<path d="M796 10.6H805" stroke="#4a4a4a" stroke-width="1" stroke-dasharray="1 1"/>
<text x="805.8" y="15" font-size="6.9" font-weight="bold" fill="#333">F</text>
<text x="826.7" y="10.7" font-size="11.7" fill="#4a4a4a" stroke="#4a4a4a" stroke-width="0.45">A</text>
<g shape-rendering="crispEdges" fill="#3a3a3a"><rect x="853" y="0" width="1" height="1"/><rect x="855" y="0" width="1" height="1"/><rect x="857" y="0" width="1" height="1"/><rect x="859" y="0" width="1" height="1"/><rect x="861" y="0" width="1" height="1"/><rect x="863" y="0" width="1" height="1"/><rect x="853" y="12" width="1" height="1"/><rect x="855" y="12" width="1" height="1"/><rect x="857" y="12" width="1" height="1"/><rect x="859" y="12" width="1" height="1"/><rect x="861" y="12" width="1" height="1"/><rect x="863" y="12" width="1" height="1"/><rect x="853" y="2" width="1" height="1"/><rect x="853" y="4" width="1" height="1"/><rect x="853" y="6" width="1" height="1"/><rect x="853" y="8" width="1" height="1"/><rect x="853" y="10" width="1" height="1"/><rect x="864" y="0" width="1" height="1"/><rect x="864" y="2" width="1" height="1"/><rect x="864" y="4" width="1" height="1"/><rect x="864" y="6" width="1" height="1"/><rect x="864" y="8" width="1" height="1"/><rect x="864" y="10" width="1" height="1"/><rect x="864" y="12" width="1" height="1"/></g>
<text x="854.6" y="10.7" font-size="10.9" fill="#4a4a4a" stroke="#4a4a4a" stroke-width="0.5">T</text>
<path d="M883.5 -0.8L887.2 3.3H885.3V4.6H881.9V3.3H879.9Z" fill="#4a4a4a"/>
<path d="M887 9.3H889V8.1H892.3V9.3H894.1L890.5 13.2Z" fill="#4a4a4a"/>
<path d="M882.3 7.4l2.3 2.3l4.2-5.6" stroke="#4a4a4a" stroke-width="1.3" fill="none"/>
<polygon points="900.8,5 906.1999999999999,5 903.5,8" fill="#000"/>
<rect x="912" y="0" width="1" height="18" fill="#a0a0a0" shape-rendering="crispEdges"/>
<rect x="913" y="0" width="1" height="18" fill="#fbfbfb" shape-rendering="crispEdges"/>
<rect x="916" y="0" width="3" height="1" fill="#a8a8a8" shape-rendering="crispEdges"/>
<rect x="916" y="2" width="3" height="1" fill="#a8a8a8" shape-rendering="crispEdges"/>
<rect x="916" y="4" width="3" height="1" fill="#a8a8a8" shape-rendering="crispEdges"/>
<rect x="916" y="6" width="3" height="1" fill="#a8a8a8" shape-rendering="crispEdges"/>
<rect x="916" y="8" width="3" height="1" fill="#a8a8a8" shape-rendering="crispEdges"/>
<rect x="916" y="10" width="3" height="1" fill="#a8a8a8" shape-rendering="crispEdges"/>
<rect x="916" y="12" width="3" height="1" fill="#a8a8a8" shape-rendering="crispEdges"/>
<rect x="916" y="14" width="3" height="1" fill="#a8a8a8" shape-rendering="crispEdges"/>
<rect x="1062" y="0" width="26" height="16" fill="#f8f8f8" shape-rendering="crispEdges"/>
<rect x="1062" y="0" width="1" height="16" fill="#a0a0a0" shape-rendering="crispEdges"/>
<text x="927.4" y="9.6" font-size="9.2" fill="#3c3c3c">M1</text>
<text x="955.4" y="9.6" font-size="9.2" fill="#3c3c3c">M5</text>
<text x="981.6" y="9.6" font-size="9.2" fill="#3c3c3c">M15</text>
<text x="1009.6" y="9.6" font-size="9.2" fill="#3c3c3c">M30</text>
<text x="1040.6" y="9.6" font-size="9.2" fill="#3c3c3c">H1</text>
<text x="1067.4" y="9.6" font-size="9.2" fill="#3c3c3c">H4</text>
<text x="1096.4" y="9.6" font-size="9.2" fill="#3c3c3c">D1</text>
<text x="1124" y="9.6" font-size="9.2" fill="#3c3c3c">W1</text>
<text x="1150.2" y="9.6" font-size="9.2" fill="#3c3c3c">MN</text>
<rect x="1173" y="0" width="1" height="18" fill="#a0a0a0" shape-rendering="crispEdges"/>
<rect x="1174" y="0" width="1" height="18" fill="#fbfbfb" shape-rendering="crispEdges"/>
<circle cx="1643.8" cy="3.2" r="3.5" fill="none" stroke="#2f62d0" stroke-width="1.1"/><path d="M1641 6L1635.8 10.8" stroke="#2f62d0" stroke-width="2"/>
<path d="M1661 6a5.4 4.4 0 1 1 6 5.4l-4.2 3l0.8-3.2a5 4 0 0 1 -2.6-5.2z" fill="#f4f4f4" stroke="#b8b8b8" stroke-width="0.8"/>
<circle cx="1674.4" cy="3.7" r="8.2" fill="#e2301a"/>
<text x="1674.4" y="8" font-size="11.5" fill="#fff" text-anchor="middle" font-weight="bold" font-family="Liberation Serif, serif">1</text>
</g></g>
</svg></body></html>
